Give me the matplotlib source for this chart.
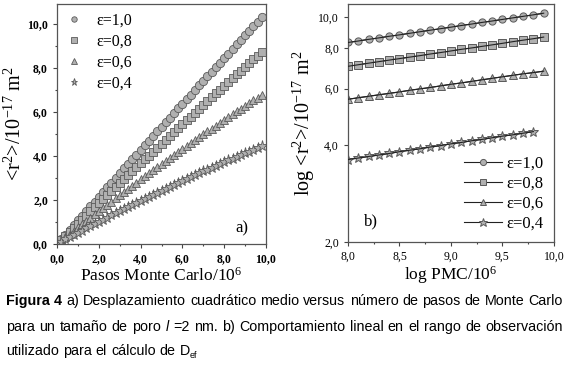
import matplotlib
matplotlib.use("Agg")
import matplotlib.pyplot as plt
from matplotlib.ticker import MultipleLocator, FixedLocator, NullLocator, NullFormatter

plt.rcParams['font.family'] = ['Liberation Serif', 'DejaVu Serif']
plt.rcParams['mathtext.fontset'] = 'custom'
plt.rcParams['mathtext.rm'] = 'Liberation Serif'
plt.rcParams['mathtext.it'] = 'Liberation Serif:italic'

# panel a) data: Monte Carlo steps (10^6) vs <r^2> (10^-17 m^2)
pasos = [0.0, 0.2, 0.4, 0.6, 0.8, 1.0, 1.2, 1.4, 1.6, 1.8,
         2.0, 2.2, 2.4, 2.6, 2.8, 3.0, 3.2, 3.4, 3.6, 3.8,
         4.0, 4.2, 4.4, 4.6, 4.8, 5.0, 5.2, 5.4, 5.6, 5.8,
         6.0, 6.2, 6.4, 6.6, 6.8, 7.0, 7.2, 7.4, 7.6, 7.8,
         8.0, 8.2, 8.4, 8.6, 8.8, 9.0, 9.2, 9.4, 9.6, 9.8]
r2_e10 = [0.00, 0.22, 0.43, 0.65, 0.86, 1.08, 1.29, 1.51, 1.72, 1.93,
          2.15, 2.36, 2.57, 2.79, 3.00, 3.21, 3.43, 3.64, 3.85, 4.06,
          4.27, 4.48, 4.69, 4.90, 5.11, 5.33, 5.53, 5.74, 5.95, 6.16,
          6.37, 6.58, 6.79, 7.00, 7.21, 7.41, 7.62, 7.83, 8.03, 8.24,
          8.45, 8.65, 8.86, 9.07, 9.27, 9.48, 9.68, 9.89, 10.09, 10.30]
r2_e08 = [0.00, 0.19, 0.37, 0.56, 0.74, 0.93, 1.11, 1.29, 1.48, 1.66,
          1.84, 2.03, 2.21, 2.39, 2.57, 2.75, 2.94, 3.12, 3.30, 3.48,
          3.66, 3.84, 4.01, 4.19, 4.37, 4.55, 4.73, 4.91, 5.08, 5.26,
          5.44, 5.61, 5.79, 5.96, 6.14, 6.31, 6.49, 6.66, 6.84, 7.01,
          7.18, 7.36, 7.53, 7.70, 7.87, 8.05, 8.22, 8.39, 8.56, 8.73]
r2_e06 = [0.00, 0.15, 0.30, 0.45, 0.60, 0.75, 0.90, 1.05, 1.20, 1.35,
          1.49, 1.64, 1.78, 1.93, 2.07, 2.22, 2.36, 2.50, 2.65, 2.79,
          2.93, 3.07, 3.21, 3.35, 3.49, 3.63, 3.76, 3.90, 4.04, 4.17,
          4.31, 4.44, 4.58, 4.71, 4.84, 4.98, 5.11, 5.24, 5.37, 5.50,
          5.63, 5.76, 5.89, 6.02, 6.15, 6.27, 6.40, 6.53, 6.65, 6.78]
r2_e04 = [0.00, 0.10, 0.21, 0.31, 0.41, 0.51, 0.61, 0.71, 0.81, 0.91,
          1.00, 1.10, 1.20, 1.30, 1.39, 1.49, 1.58, 1.68, 1.77, 1.87,
          1.96, 2.05, 2.14, 2.24, 2.33, 2.42, 2.51, 2.60, 2.69, 2.78,
          2.86, 2.95, 3.04, 3.12, 3.21, 3.30, 3.38, 3.47, 3.55, 3.63,
          3.72, 3.80, 3.88, 3.96, 4.04, 4.12, 4.20, 4.28, 4.36, 4.44]

# panel b) data: log PMC vs log <r^2>
log_pmc = [8.0, 8.1, 8.2, 8.3, 8.4, 8.5, 8.6, 8.7, 8.8, 8.9,
           9.0, 9.1, 9.2, 9.3, 9.4, 9.5, 9.6, 9.7, 9.8, 9.9]
log_e10 = [8.35, 8.44, 8.54, 8.63, 8.73, 8.82, 8.92, 9.02, 9.12, 9.22,
           9.32, 9.43, 9.53, 9.64, 9.74, 9.85, 9.96, 10.07, 10.18, 10.30]
log_e08 = [7.04, 7.12, 7.20, 7.28, 7.36, 7.44, 7.52, 7.60, 7.69, 7.77,
           7.86, 7.95, 8.03, 8.12, 8.21, 8.30, 8.40, 8.49, 8.58, 8.68]
log_e06 = [5.56, 5.62, 5.68, 5.74, 5.80, 5.86, 5.93, 5.99, 6.05, 6.12,
           6.19, 6.25, 6.32, 6.39, 6.46, 6.53, 6.60, 6.67, 6.73, 6.80]
log_e04 = [3.61, 3.65, 3.69, 3.73, 3.77, 3.82, 3.86, 3.90, 3.95, 3.99,
           4.04, 4.08, 4.13, 4.17, 4.22, 4.27, 4.31, 4.36, 4.41]

etiquetas = ['ε=1,0', 'ε=0,8', 'ε=0,6', 'ε=0,4']
marcadores = ['o', 's', '^', '*']
gris = '#b0b0b0'
borde = '#5a5a5a'

fig = plt.figure(figsize=(5.69, 3.65), dpi=100)

# ---- panel a)
ax1 = fig.add_axes([0.1002, 0.3315, 0.3673, 0.6575])
series_a = [r2_e10, r2_e08, r2_e06, r2_e04]
for ys, m, lab in zip(series_a, marcadores, etiquetas):
    ms = 8 if m == '*' else 6
    ax1.plot(pasos, ys, linestyle='none', marker=m, ms=ms, mfc=gris, mec=borde,
             mew=0.6, label=lab)
ax1.set_xlim(0, 10)
ax1.set_ylim(0, 10.9)
ax1.xaxis.set_major_locator(MultipleLocator(2))
ax1.yaxis.set_major_locator(MultipleLocator(2))
ax1.xaxis.set_minor_locator(MultipleLocator(1))
ax1.yaxis.set_minor_locator(MultipleLocator(1))
fmt = lambda v, p: ('%.1f' % v).replace('.', ',')
ax1.xaxis.set_major_formatter(fmt)
ax1.yaxis.set_major_formatter(fmt)
ax1.tick_params(which='both', direction='out', labelsize=8.5, width=0.8, color='#444444')
ax1.tick_params(which='major', length=3)
ax1.tick_params(which='minor', length=1.5)
for lbl in ax1.get_xticklabels() + ax1.get_yticklabels():
    lbl.set_fontweight('bold')
ax1.set_xlabel('Pasos Monte Carlo/10$^6$', fontsize=12.5, labelpad=1)
ax1.set_ylabel('<r$^2$>/10$^{-17}$ m$^2$', fontsize=14.5, labelpad=1)
ax1.text(0.885, 0.065, 'a)', transform=ax1.transAxes, fontsize=12, ha='center', va='center')
leg1 = ax1.legend(loc='upper left', frameon=False, fontsize=11.5, handletextpad=0.9,
                  labelspacing=0.3, borderaxespad=0.15, handlelength=1.0,
                  markerscale=0.65)

# ---- panel b)
ax2 = fig.add_axes([0.6116, 0.337, 0.362, 0.652])
series_b = [log_e10, log_e08, log_e06, log_e04]
for ys, m, lab in zip(series_b, marcadores, etiquetas):
    ms = 7.5 if m == '*' else 5.2
    xs = log_pmc[:len(ys)]
    ax2.plot(xs, ys, color='#222222', lw=0.8, marker=m, ms=ms,
             mfc=gris, mec=borde, mew=0.7, label=lab)
    ax2.plot(xs, ys, color='#222222', lw=0.8, zorder=3)
ax2.set_yscale('log')
ax2.set_xlim(8, 10)
ax2.set_ylim(2, 11)
ax2.xaxis.set_major_locator(MultipleLocator(0.5))
ax2.xaxis.set_minor_locator(MultipleLocator(0.25))
ax2.yaxis.set_major_locator(FixedLocator([2, 4, 6, 8, 10]))
ax2.yaxis.set_minor_locator(NullLocator())
ax2.yaxis.set_minor_formatter(NullFormatter())
ax2.xaxis.set_major_formatter(fmt)
ax2.yaxis.set_major_formatter(fmt)
ax2.tick_params(which='both', direction='out', labelsize=8.5, width=0.8, color='#444444')
ax2.tick_params(which='major', length=3)
ax2.tick_params(which='minor', length=1.5)
ax2.set_xlabel('log PMC/10$^6$', fontsize=12.5, labelpad=1)
ax2.set_ylabel('log <r$^2$>/10$^{-17}$ m$^2$', fontsize=14.5, labelpad=1)
ax2.text(0.11, 0.085, 'b)', transform=ax2.transAxes, fontsize=12, ha='center', va='center')
leg2 = ax2.legend(loc='lower right', frameon=False, fontsize=12, handletextpad=0.3,
                  labelspacing=0.25, borderaxespad=0.2, handlelength=2.3,
                  markerscale=0.85)

for ax in (ax1, ax2):
    for s in ax.spines.values():
        s.set_color('#555555')
        s.set_linewidth(0.9)

# ---- caption (justified lines)
cap_font = ['Liberation Sans Narrow', 'Liberation Sans', 'DejaVu Sans']
cap_size = 10.3
renderer = fig.canvas.get_renderer()
W, H = fig.bbox.width, fig.bbox.height


def linea(palabras, y_px, x0_px, x1_px, justificar=True):
    objs = []
    for w, estilo in palabras:
        kw = dict(family=cap_font, fontsize=cap_size, va='baseline', ha='left')
        if estilo == 'b':
            kw['fontweight'] = 'bold'
        if estilo == 'i':
            kw['fontstyle'] = 'italic'
        objs.append(fig.text(0, 1 - y_px / H, w, **kw))
    anchos = [t.get_window_extent(renderer).width for t in objs]
    if justificar and len(objs) > 1:
        hueco = (x1_px - x0_px - sum(anchos)) / (len(objs) - 1)
    else:
        hueco = fig.text(0, 0, ' ', family=cap_font, fontsize=cap_size).get_window_extent(renderer).width
    x = x0_px
    for t, a in zip(objs, anchos):
        t.set_x(x / W)
        x += a + hueco
    return x - hueco


l1 = [('Figura', 'b'), ('4', 'b')] + [(w, '') for w in
      'a) Desplazamiento cuadrático medio versus número de pasos de Monte Carlo'.split()]
l2 = [(w, '') for w in 'para un tamaño de poro'.split()] + [('l', 'i')] + \
     [(w, '') for w in '=2 nm. b) Comportamiento lineal en el rango de observación'.split()]
l3 = [(w, '') for w in 'utilizado para el cálculo de D'.split()]

linea(l1, 305, 6, 563)
linea(l2, 331, 6, 563)
xf = linea(l3, 355, 6, 563, justificar=False)
fig.text(xf / W, 1 - 358 / H, 'ef', family=cap_font, fontsize=6.5, va='baseline', ha='left')

fig.savefig('out.png', dpi=100)
